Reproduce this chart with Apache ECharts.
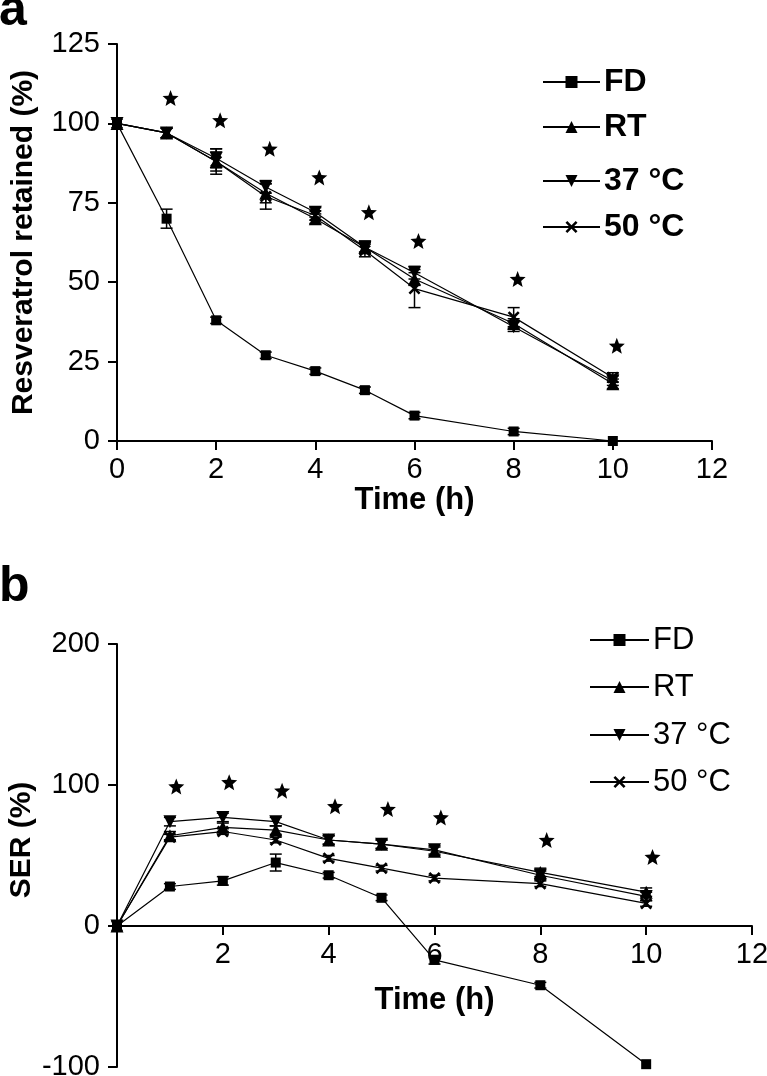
<!DOCTYPE html>
<html>
<head>
<meta charset="utf-8">
<script src="https://cdn.jsdelivr.net/npm/echarts@6/dist/echarts.min.js"></script>
<style>
html,body{margin:0;padding:0;background:#fff;}
#chart{width:767px;height:1076px;}
</style>
</head>
<body>
<div id="chart"></div>
<script>
// ---------- data ----------
const time = [0, 1, 2, 3, 4, 5, 6, 8, 10];

// Panel a: Resveratrol retained (%)
const aFD  = [100, 70, 38, 27, 22, 16, 8, 3, 0];
const aRT  = [100, 97, 88, 78, 70, 61, 51, 37, 18];
const a37  = [100, 97, 89, 80, 72, 61, 53, 36, 19];
const a50  = [100, 97, 88, 77, 71, 60, 48, 39, 20];
const aErrFD = [0, 3, 1, 1, 1, 1, 1, 1, 0];
const aErrRT = [0, 1.5, 4, 3, 1.5, 2, 2, 1.5, 1.5];
const aErr37 = [0, 1.5, 3, 2, 1.5, 1.5, 2, 1.5, 1.5];
const aErr50 = [0, 1.5, 3, 4, 1.5, 2, 6, 3, 1.5];
const aStarT = [1, 2, 3, 4, 5, 6, 8, 10];
const aStarY = [108, 101, 92, 83, 72, 63, 51, 30];

// Panel b: SER (%)
const bFD  = [0, 28, 32, 45, 36, 20, -24, -42, -98];
const bRT  = [0, 64, 70, 68, 61, 58, 53, 38, 24];
const b37  = [0, 74, 77, 74, 61, 58, 54, 36, 21];
const b50  = [0, 63, 67, 61, 48, 41, 34, 30, 16];
const bErrFD = [0, 2, 3, 6, 2, 2, 3, 2, 0];
const bErrRT = [0, 3, 3, 3, 3, 3, 3, 3, 3];
const bErr37 = [0, 3, 3, 3, 3, 3, 3, 3, 3];
const bErr50 = [0, 2, 2, 2, 2, 2, 2, 2, 2];
const bStarT = [1, 2, 3, 4, 5, 6, 8, 10];
const bStarY = [99, 102, 96, 85, 83, 77, 61, 49];

const names = ['FD', 'RT', '37 °C', '50 °C'];

// ---------- styles ----------
const narrow = "'Liberation Sans Narrow','Arial Narrow','Liberation Sans',Arial,sans-serif";
const sans = "'Liberation Sans',Arial,Helvetica,sans-serif";
const symTriDown = 'path://M0,0 L10,0 L5,10 Z';
const symX = 'path://M0,1.5 L1.5,0 L5,3.5 L8.5,0 L10,1.5 L6.5,5 L10,8.5 L8.5,10 L5,6.5 L1.5,10 L0,8.5 L3.5,5 Z';
const symStar = 'path://M50,0 L63,33 L98,35 L71,58 L80,93 L50,74 L20,93 L29,58 L2,35 L37,33 Z';
const symbols = ['rect', 'triangle', symTriDown, symX];
const symSizes = [10, 13, 13, 12];

function pairs(vals){ return time.map((t,i)=>[t, vals[i]]); }

function lineSeries(name, vals, k, gi){
  return {
    type:'line', name:name, xAxisIndex:gi, yAxisIndex:gi,
    data:pairs(vals), symbol:symbols[k], symbolSize:symSizes[k],
    showAllSymbol:true,
    itemStyle:{color:'#000', opacity:1}, lineStyle:{color:'#000', width:1.2},
    z:3
  };
}
function errSeries(vals, errs, gi){
  return {
    type:'custom', xAxisIndex:gi, yAxisIndex:gi, silent:true, z:2,
    data: time.map((t,i)=>[t, vals[i], errs[i]]),
    renderItem:function(params, api){
      const x = api.value(0), y = api.value(1), e = api.value(2);
      if (!e) return null;
      const p1 = api.coord([x, y + e]), p2 = api.coord([x, y - e]);
      const st = {stroke:'#000', lineWidth:1.5};
      return {type:'group', children:[
        {type:'line', shape:{x1:p1[0], y1:p1[1], x2:p2[0], y2:p2[1]}, style:st},
        {type:'line', shape:{x1:p1[0]-6, y1:p1[1], x2:p1[0]+6, y2:p1[1]}, style:st},
        {type:'line', shape:{x1:p2[0]-6, y1:p2[1], x2:p2[0]+6, y2:p2[1]}, style:st}
      ]};
    }
  };
}
function starSeries(ts, ys, dx, gi){
  return {
    type:'scatter', xAxisIndex:gi, yAxisIndex:gi, silent:true,
    data: ts.map((t,i)=>[t + dx, ys[i]]),
    symbol:symStar, symbolSize:16, itemStyle:{color:'#000', opacity:1}, z:4
  };
}

function xAx(gi, gap, hideZero, offset){
  return {
    gridIndex:gi, type:'value', min:0, max:12, interval:2,
    position:'bottom', offset:offset,
    axisLine:{onZero:false, lineStyle:{color:'#000', width:2}},
    axisTick:{length:9, lineStyle:{color:'#000', width:2}},
    axisLabel:{color:'#000', fontSize:29, fontFamily:narrow, margin:14,
      formatter:function(v){ return (hideZero && v===0) ? '' : String(v); }},
    splitLine:{show:false},
    name:'Time (h)', nameLocation:'middle', nameGap:gap,
    nameTextStyle:{color:'#000', fontSize:31, fontWeight:'bold', fontFamily:narrow}
  };
}
function yAx(gi, min, max, step, name, gap){
  return {
    gridIndex:gi, type:'value', min:min, max:max, interval:step,
    axisLine:{show:true, onZero:false, lineStyle:{color:'#000', width:2}},
    axisTick:{show:true, length:9, lineStyle:{color:'#000', width:2}},
    axisLabel:{color:'#000', fontSize:29, fontFamily:narrow, margin:17},
    splitLine:{show:false},
    name:name, nameLocation:'middle', nameGap:gap,
    nameTextStyle:{color:'#000', fontSize:30, fontWeight:'bold', fontFamily:sans}
  };
}

function legendItem(name, left, cy, bold, size, w){
  return {
    data:[name], left:left, top:cy - 17, orient:'vertical',
    itemWidth:w, itemHeight:15, itemGap:0, padding:0,
    selectedMode:false,
    textStyle:{color:'#000', fontSize:size, fontWeight:bold?'bold':'normal',
      fontFamily:sans, lineHeight:34, padding:[0,0,0,-1]}
  };
}

const aRows = [82, 127, 181, 227];
const bRows = [640, 687, 735, 782];
const legends = [];
names.forEach((n,i)=>legends.push(legendItem(n, 542, aRows[i], true, 32, 57)));
names.forEach((n,i)=>legends.push(legendItem(n, 589, bRows[i], false, 31, 59)));

const series = [];
[[aFD,aErrFD],[aRT,aErrRT],[a37,aErr37],[a50,aErr50]].forEach((p,k)=>series.push(errSeries(p[0],p[1],0)));
[[bFD,bErrFD],[bRT,bErrRT],[b37,bErr37],[b50,bErr50]].forEach((p,k)=>series.push(errSeries(p[0],p[1],1)));
[aFD,aRT,a37,a50].forEach((v,k)=>series.push(lineSeries(names[k], v, k, 0)));
[bFD,bRT,b37,b50].forEach((v,k)=>series.push(lineSeries(names[k], v, k, 1)));
series.push(starSeries(aStarT, aStarY, 0.08, 0));
series.push(starSeries(bStarT, bStarY, 0.12, 1));

// panel b grid: 423 px for 300 units -> zero line sits 141 px above the bottom
const bGridH = 423;
const bZeroOffset = -bGridH * (0 - (-100)) / (200 - (-100));

const option = {
  animation:false,
  backgroundColor:'#fff',
  grid:[
    {left:117, top:44, width:595, height:397, containLabel:false, outerBoundsMode:'none'},
    {left:117, top:644, width:635, height:bGridH, containLabel:false, outerBoundsMode:'none'}
  ],
  xAxis:[ xAx(0, 36, false, 0), xAx(1, 59, true, bZeroOffset) ],
  yAxis:[
    yAx(0, 0, 125, 25, 'Resveratrol retained (%)', 78),
    yAx(1, -100, 200, 100, '', 78)
  ],
  legend:legends,
  graphic:[
    {type:'text', left:-1, top:-14, style:{text:'a', fontSize:50, fontWeight:'bold', fontFamily:sans, fill:'#000'}},
    {type:'text', left:-1, top:562, style:{text:'b', fontSize:50, fontWeight:'bold', fontFamily:sans, fill:'#000'}},
    {type:'text', x:22, y:840, rotation:Math.PI/2,
      style:{text:'SER (%)', fontSize:30, fontWeight:'bold', fontFamily:sans, fill:'#000', align:'center', verticalAlign:'middle'}}
  ],
  series:series
};

const chart = echarts.init(document.getElementById('chart'), null, {renderer:'canvas'});
chart.setOption(option);
</script>
</body>
</html>
